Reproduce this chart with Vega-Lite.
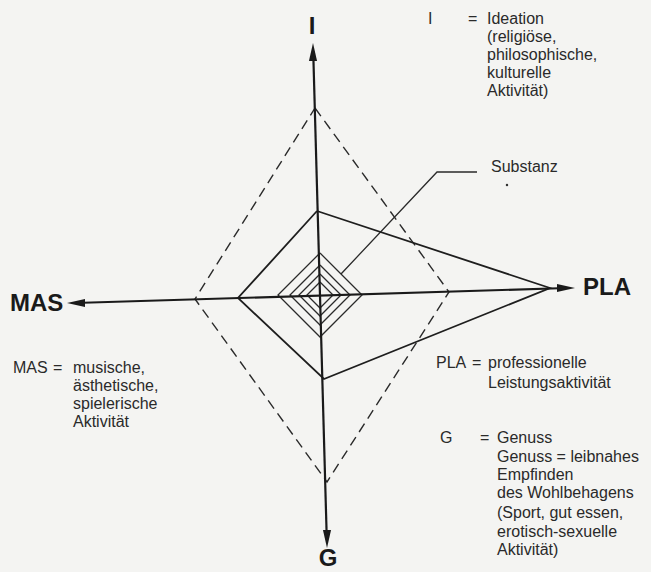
{
  "$schema": "https://vega.github.io/schema/vega-lite/v6.json",
  "width": 651,
  "height": 572,
  "autosize": {"type": "none"},
  "padding": 0,
  "background": "#f4f4f2",
  "config": {"view": {"stroke": null}},
  "datasets": {
    "lines": [
      {"id": "axis_v", "kind": "axis", "ord": 0, "x": -6.8, "y": 245},
      {"id": "axis_v", "kind": "axis", "ord": 1, "x": 6.8, "y": -244},
      {"id": "axis_h", "kind": "axis", "ord": 0, "x": -245, "y": -7},
      {"id": "axis_h", "kind": "axis", "ord": 1, "x": 247, "y": 8},
      {"id": "profile", "kind": "profile", "ord": 0, "x": -3, "y": 85},
      {"id": "profile", "kind": "profile", "ord": 1, "x": 230, "y": 8},
      {"id": "profile", "kind": "profile", "ord": 2, "x": 4, "y": -83},
      {"id": "profile", "kind": "profile", "ord": 3, "x": -82, "y": -2},
      {"id": "profile", "kind": "profile", "ord": 4, "x": -3, "y": 85},
      {"id": "dash", "kind": "dash", "ord": 0, "x": -5, "y": 188},
      {"id": "dash", "kind": "dash", "ord": 1, "x": 129, "y": 4},
      {"id": "dash", "kind": "dash", "ord": 2, "x": 7, "y": -186},
      {"id": "dash", "kind": "dash", "ord": 3, "x": -125, "y": -3},
      {"id": "dash", "kind": "dash", "ord": 4, "x": -5, "y": 188},
      {"id": "d1", "kind": "inner", "ord": 0, "x": 0, "y": 43},
      {"id": "d1", "kind": "inner", "ord": 1, "x": 42, "y": 1},
      {"id": "d1", "kind": "inner", "ord": 2, "x": 0, "y": -41},
      {"id": "d1", "kind": "inner", "ord": 3, "x": -42, "y": 1},
      {"id": "d1", "kind": "inner", "ord": 4, "x": 0, "y": 43},
      {"id": "d2", "kind": "inner", "ord": 0, "x": 0, "y": 31},
      {"id": "d2", "kind": "inner", "ord": 1, "x": 30, "y": 1},
      {"id": "d2", "kind": "inner", "ord": 2, "x": 0, "y": -29},
      {"id": "d2", "kind": "inner", "ord": 3, "x": -30, "y": 1},
      {"id": "d2", "kind": "inner", "ord": 4, "x": 0, "y": 31},
      {"id": "d3", "kind": "inner", "ord": 0, "x": 0, "y": 22},
      {"id": "d3", "kind": "inner", "ord": 1, "x": 21, "y": 1},
      {"id": "d3", "kind": "inner", "ord": 2, "x": 0, "y": -20},
      {"id": "d3", "kind": "inner", "ord": 3, "x": -21, "y": 1},
      {"id": "d3", "kind": "inner", "ord": 4, "x": 0, "y": 22},
      {"id": "d4", "kind": "inner", "ord": 0, "x": 0, "y": 14},
      {"id": "d4", "kind": "inner", "ord": 1, "x": 13, "y": 1},
      {"id": "d4", "kind": "inner", "ord": 2, "x": 0, "y": -12},
      {"id": "d4", "kind": "inner", "ord": 3, "x": -13, "y": 1},
      {"id": "d4", "kind": "inner", "ord": 4, "x": 0, "y": 14},
      {"id": "leader", "kind": "leader", "ord": 0, "x": 21, "y": 22},
      {"id": "leader", "kind": "leader", "ord": 1, "x": 117, "y": 124},
      {"id": "leader", "kind": "leader", "ord": 2, "x": 157, "y": 124}
    ],
    "arrows": [
      {"dir": "up", "x": -7, "y": 253},
      {"dir": "down", "x": 7, "y": -252},
      {"dir": "left", "x": -253, "y": -7},
      {"dir": "right", "x": 255, "y": 8}
    ],
    "dots": [
      {"x": 187, "y": 111}
    ],
    "labels": [
      {"t": "I", "k": "bigc", "x": -8, "y": 269},
      {"t": "G", "k": "bigc", "x": 8, "y": -263},
      {"t": "MAS", "k": "bigl", "x": -310, "y": -8},
      {"t": "PLA", "k": "bigl", "x": 263, "y": 8},
      {"t": "I", "k": "body", "x": 108, "y": 277},
      {"t": "=", "k": "body", "x": 148, "y": 277},
      {"t": "Ideation", "k": "body", "x": 167, "y": 277},
      {"t": "(religiöse,", "k": "body", "x": 167, "y": 259},
      {"t": "philosophische,", "k": "body", "x": 167, "y": 241},
      {"t": "kulturelle", "k": "body", "x": 167, "y": 223},
      {"t": "Aktivität)", "k": "body", "x": 167, "y": 205},
      {"t": "Substanz", "k": "body", "x": 171, "y": 129},
      {"t": "MAS", "k": "body", "x": -307, "y": -72},
      {"t": "=", "k": "body", "x": -267, "y": -72},
      {"t": "musische,", "k": "body", "x": -247, "y": -72},
      {"t": "ästhetische,", "k": "body", "x": -247, "y": -90},
      {"t": "spielerische", "k": "body", "x": -247, "y": -108},
      {"t": "Aktivität", "k": "body", "x": -247, "y": -126},
      {"t": "PLA", "k": "body", "x": 116, "y": -67},
      {"t": "=", "k": "body", "x": 152, "y": -67},
      {"t": "professionelle", "k": "body", "x": 168, "y": -67},
      {"t": "Leistungsaktivität", "k": "body", "x": 168, "y": -87},
      {"t": "G", "k": "body", "x": 120, "y": -142},
      {"t": "=", "k": "body", "x": 160, "y": -142},
      {"t": "Genuss", "k": "body", "x": 177, "y": -142},
      {"t": "Genuss = leibnahes", "k": "body", "x": 177, "y": -161},
      {"t": "Empfinden", "k": "body", "x": 177, "y": -179},
      {"t": "des Wohlbehagens", "k": "body", "x": 177, "y": -197},
      {"t": "(Sport, gut essen,", "k": "body", "x": 177, "y": -217},
      {"t": "erotisch-sexuelle", "k": "body", "x": 177, "y": -236},
      {"t": "Aktivität)", "k": "body", "x": 177, "y": -254}
    ]
  },
  "encoding": {
    "x": {"field": "x", "type": "quantitative", "scale": {"domain": [-320, 331], "nice": false, "zero": false}, "axis": null},
    "y": {"field": "y", "type": "quantitative", "scale": {"domain": [-276, 296], "nice": false, "zero": false}, "axis": null}
  },
  "layer": [
    {
      "data": {"name": "lines"},
      "transform": [{"filter": "datum.kind === 'dash'"}],
      "mark": {"type": "line", "color": "#2a2a2a", "strokeWidth": 1.4, "strokeDash": [10, 6]},
      "encoding": {"detail": {"field": "id"}, "order": {"field": "ord", "type": "quantitative"}}
    },
    {
      "data": {"name": "lines"},
      "transform": [{"filter": "datum.kind === 'inner' || datum.kind === 'leader'"}],
      "mark": {"type": "line", "color": "#2a2a2a", "strokeWidth": 1.3},
      "encoding": {"detail": {"field": "id"}, "order": {"field": "ord", "type": "quantitative"}}
    },
    {
      "data": {"name": "lines"},
      "transform": [{"filter": "datum.kind === 'profile'"}],
      "mark": {"type": "line", "color": "#1e1e1e", "strokeWidth": 1.8},
      "encoding": {"detail": {"field": "id"}, "order": {"field": "ord", "type": "quantitative"}}
    },
    {
      "data": {"name": "lines"},
      "transform": [{"filter": "datum.kind === 'axis'"}],
      "mark": {"type": "line", "color": "#1a1a1a", "strokeWidth": 2.2},
      "encoding": {"detail": {"field": "id"}, "order": {"field": "ord", "type": "quantitative"}}
    },
    {
      "data": {"name": "arrows"},
      "mark": {"type": "point", "filled": true, "color": "#1a1a1a", "size": 324, "opacity": 1, "strokeWidth": 0},
      "encoding": {
        "shape": {
          "field": "dir",
          "type": "nominal",
          "scale": {
            "domain": ["up", "down", "left", "right"],
            "range": ["M 0 0 L 0.45 2 L -0.45 2 Z", "M 0 0 L 0.45 -2 L -0.45 -2 Z", "M 0 0 L 2 0.45 L 2 -0.45 Z", "M 0 0 L -2 0.45 L -2 -0.45 Z"]
          },
          "legend": null
        }
      }
    },
    {
      "data": {"name": "dots"},
      "mark": {"type": "point", "filled": true, "color": "#333333", "size": 6, "opacity": 1}
    },
    {
      "data": {"name": "labels"},
      "transform": [{"filter": "datum.k === 'bigc'"}],
      "mark": {"type": "text", "align": "center", "baseline": "middle", "font": "Liberation Sans", "fontWeight": "bold", "fontSize": 24, "color": "#1a1a1a"},
      "encoding": {"text": {"field": "t"}}
    },
    {
      "data": {"name": "labels"},
      "transform": [{"filter": "datum.k === 'bigl'"}],
      "mark": {"type": "text", "align": "left", "baseline": "middle", "font": "Liberation Sans", "fontWeight": "bold", "fontSize": 24, "color": "#1a1a1a"},
      "encoding": {"text": {"field": "t"}}
    },
    {
      "data": {"name": "labels"},
      "transform": [{"filter": "datum.k === 'body'"}],
      "mark": {"type": "text", "align": "left", "baseline": "middle", "font": "Liberation Sans", "fontSize": 16, "color": "#2a2a2a"},
      "encoding": {"text": {"field": "t"}}
    }
  ]
}
